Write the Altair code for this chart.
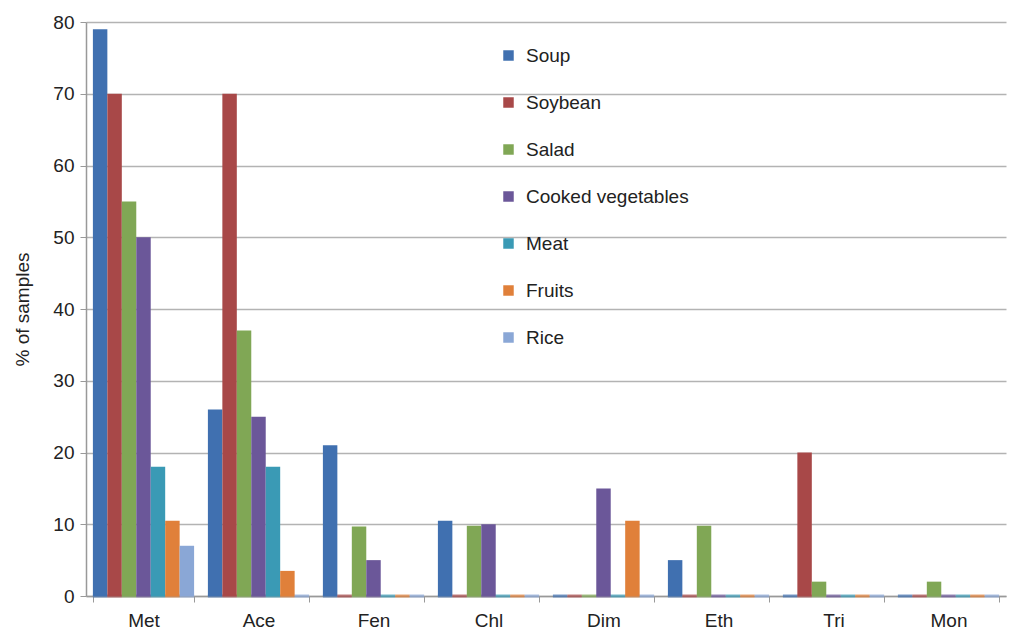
import altair as alt
import pandas as pd

categories = ["Met", "Ace", "Fen", "Chl", "Dim", "Eth", "Tri", "Mon"]
series = ["Soup", "Soybean", "Salad", "Cooked vegetables", "Meat", "Fruits", "Rice"]
colors = ["#4070b0", "#a84848", "#80a755", "#6b5799", "#3a9ab5", "#e0803a", "#8aa7d6"]

soup = [79, 26, 21, 10.5, 0, 5, 0, 0]
soybean = [70, 70, 0, 0, 0, 0, 20, 0]
salad = [55, 37, 9.7, 9.8, 0, 9.8, 2, 2]
cooked = [50, 25, 5, 10, 15, 0, 0, 0]
meat = [18, 18, 0, 0, 0, 0, 0, 0]
fruits = [10.5, 3.5, 0, 0, 10.5, 0, 0, 0]
rice = [7, 0, 0, 0, 0, 0, 0, 0]

values = [soup, soybean, salad, cooked, meat, fruits, rice]
rows = []
for s, vals in zip(series, values):
    for c, v in zip(categories, vals):
        rows.append({"Compound": c, "Food": s, "Value": v})
df = pd.DataFrame(rows)

FONT = "Liberation Sans"

x = alt.X("Compound:N", sort=categories, title=None,
          scale=alt.Scale(paddingInner=0.12, paddingOuter=0.06),
          axis=alt.Axis(labelAngle=0, labelFontSize=19, labelPadding=9, tickBand="extent",
                        tickSize=6, tickColor="#999999", domainColor="#999999",
                        domainWidth=1.5, labelColor="#222222", labelFont=FONT, grid=False))
xoff = alt.XOffset("Food:N", sort=series)
color = alt.Color("Food:N", sort=series, title=None,
                  scale=alt.Scale(domain=series, range=colors),
                  legend=alt.Legend(orient="none", legendX=413, legendY=24, symbolType="square",
                                    symbolSize=110, labelFontSize=19, labelFont=FONT,
                                    labelColor="#222222", rowPadding=27, labelOffset=8,
                                    labelLimit=400, symbolStrokeWidth=0))

bars = alt.Chart(df).mark_bar(stroke=None).encode(
    x=x, xOffset=xoff,
    y=alt.Y("Value:Q", title="% of samples",
            scale=alt.Scale(domain=[0, 80]),
            axis=alt.Axis(values=list(range(0, 81, 10)), labelFontSize=19, titleFontSize=19,
                          titleFontWeight="normal", titleFont=FONT, labelFont=FONT,
                          labelColor="#222222", titleColor="#222222", titlePadding=20,
                          labelPadding=6,
                          gridColor="#b3b3b3", gridWidth=1.5, tickColor="#999999",
                          tickSize=6, domainColor="#999999", domainWidth=1.5)),
    color=color,
)

base = alt.Chart(df).mark_tick(thickness=3, orient="horizontal").encode(
    x=x, xOffset=xoff,
    y=alt.Y("zero:Q"),
    color=alt.Color("Food:N", sort=series, scale=alt.Scale(domain=series, range=colors), legend=None),
).transform_calculate(zero="0")

chart = alt.layer(bars, base).properties(
    width=920, height=574
).configure_view(stroke=None).configure_scale(bandPaddingInner=0.0)

chart.save("out.html", embed_options={"renderer": "svg", "actions": False})
